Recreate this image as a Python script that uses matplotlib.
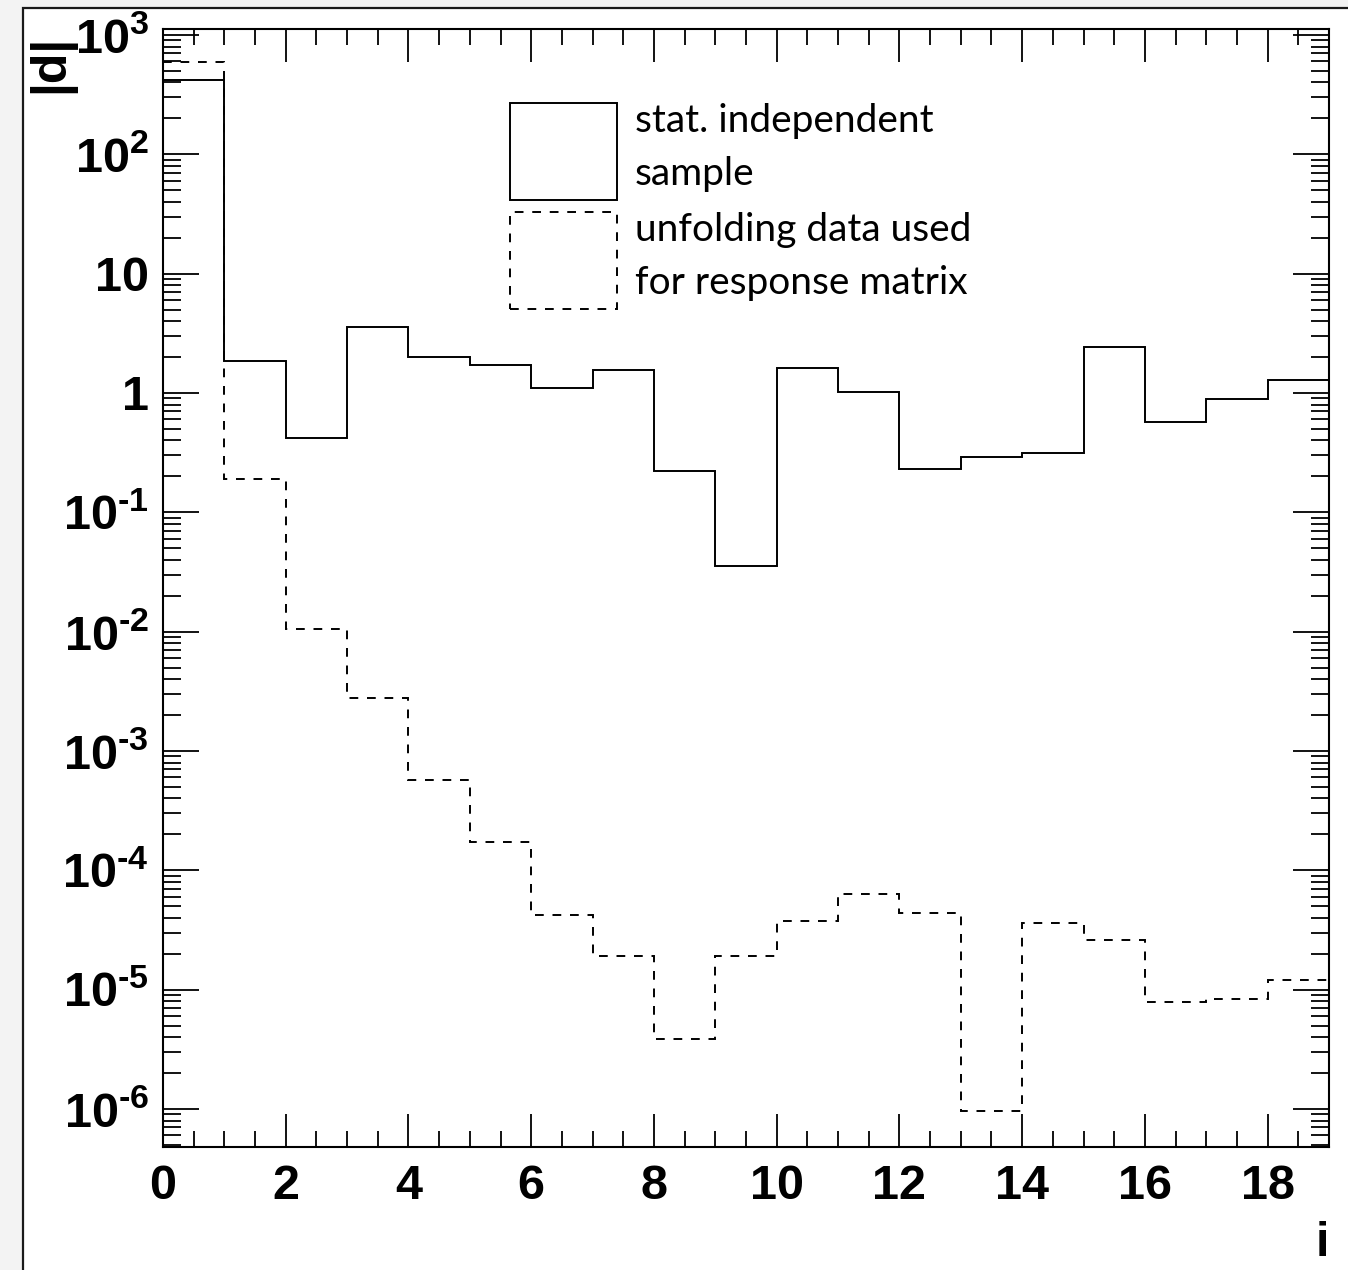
import matplotlib
matplotlib.use("Agg")
import matplotlib.pyplot as plt
import numpy as np
from matplotlib.patches import Patch, Rectangle
from matplotlib.ticker import FixedLocator, FixedFormatter, MultipleLocator, LogLocator, NullFormatter

# bin edges i = 0..19
edges = np.arange(0, 20)

# |d| per bin
stat_indep = [420, 1.85, 0.42, 3.57, 2.0, 1.72, 1.10, 1.56, 0.222, 0.0355,
              1.62, 1.02, 0.23, 0.29, 0.314, 2.43, 0.57, 0.89, 1.28]
unfold_resp = [594, 0.19, 0.0105, 0.00278, 5.7e-4, 1.72e-4, 4.2e-5, 1.9e-5, 3.86e-6, 1.9e-5,
               3.76e-5, 6.3e-5, 4.4e-5, 9.6e-7, 3.6e-5, 2.6e-5, 7.9e-6, 8.4e-6, 1.2e-5]

labels = ["stat. independent\nsample", "unfolding data used\nfor response matrix"]

y_major = [1e-6, 1e-5, 1e-4, 1e-3, 1e-2, 1e-1, 1, 10, 1e2, 1e3]
y_labels = ["$\\mathbf{10^{\u20106}}$", "$\\mathbf{10^{\u20105}}$", "$\\mathbf{10^{\u20104}}$",
            "$\\mathbf{10^{\u20103}}$", "$\\mathbf{10^{\u20102}}$", "$\\mathbf{10^{\u20101}}$",
            "1", "10", r"$\mathbf{10^{2}}$", r"$\mathbf{10^{3}}$"]

plt.rcParams['font.family'] = ['Liberation Sans', 'DejaVu Sans']
plt.rcParams['mathtext.fontset'] = 'custom'
plt.rcParams['mathtext.bf'] = 'Liberation Sans:bold'
plt.rcParams['mathtext.rm'] = 'Liberation Sans:bold'

fig = plt.figure(figsize=(13.48, 12.70), dpi=100, facecolor='#f3f3f3')
fig.add_artist(Rectangle((23/1348, -0.1), 1.2, 1 - 8/1270 + 0.1, transform=fig.transFigure,
                         facecolor='white', edgecolor='#1a1a1a', lw=1.6, zorder=-1))

ax = fig.add_axes([163/1348, 1 - 1147/1270, (1329-163)/1348, (1147-29)/1270])

ax.stairs(stat_indep, edges, baseline=None, color='black', lw=1.4)
ax.stairs(unfold_resp, edges, baseline=None, color='black', lw=1.4, linestyle=(0, (4.5, 4.5)))

ax.set_yscale('log')
ax.set_xlim(0, 19)
ax.set_ylim(4.8e-7, 1122)

ax.yaxis.set_major_locator(FixedLocator(y_major))
ax.yaxis.set_major_formatter(FixedFormatter(y_labels))
ax.yaxis.set_minor_locator(LogLocator(base=10, subs=np.arange(2, 10), numticks=30))
ax.yaxis.set_minor_formatter(NullFormatter())
ax.xaxis.set_major_locator(MultipleLocator(2))
ax.xaxis.set_minor_locator(MultipleLocator(0.5))

ax.tick_params(axis='both', which='both', direction='in', top=True, right=True, width=1.3)
ax.tick_params(axis='y', which='major', length=26, pad=10, labelsize=35)
ax.tick_params(axis='y', which='minor', length=13)
ax.tick_params(axis='x', which='major', length=24, pad=12, labelsize=35)
ax.tick_params(axis='x', which='minor', length=11.5)
for lab in ax.get_xticklabels() + ax.get_yticklabels():
    lab.set_fontweight('bold')
for sp in ax.spines.values():
    sp.set_linewidth(1.5)

ax.set_ylabel('|d|', loc='top', fontsize=36, fontweight='bold')
ax.yaxis.set_label_coords(-0.0755, 0.995)
ax.set_xlabel('i', loc='right', fontsize=35, fontweight='bold')
ax.xaxis.set_label_coords(1.0, -0.066)

handles = [Patch(facecolor='none', edgecolor='black', lw=1.4),
           Patch(facecolor='none', edgecolor='black', lw=1.4, linestyle=(0, (4.5, 4.5)))]
leg = ax.legend(handles, labels, loc='upper left', bbox_to_anchor=(0.2976, 0.934),
                frameon=False, borderpad=0, borderaxespad=0,
                handlelength=2.75, handleheight=3.46, handletextpad=0.46,
                labelspacing=0.31, prop={'family': 'Lato', 'size': 28})
for t in leg.get_texts():
    t.set_linespacing(1.6)

fig.savefig('out.png', dpi=100, facecolor=fig.get_facecolor())
